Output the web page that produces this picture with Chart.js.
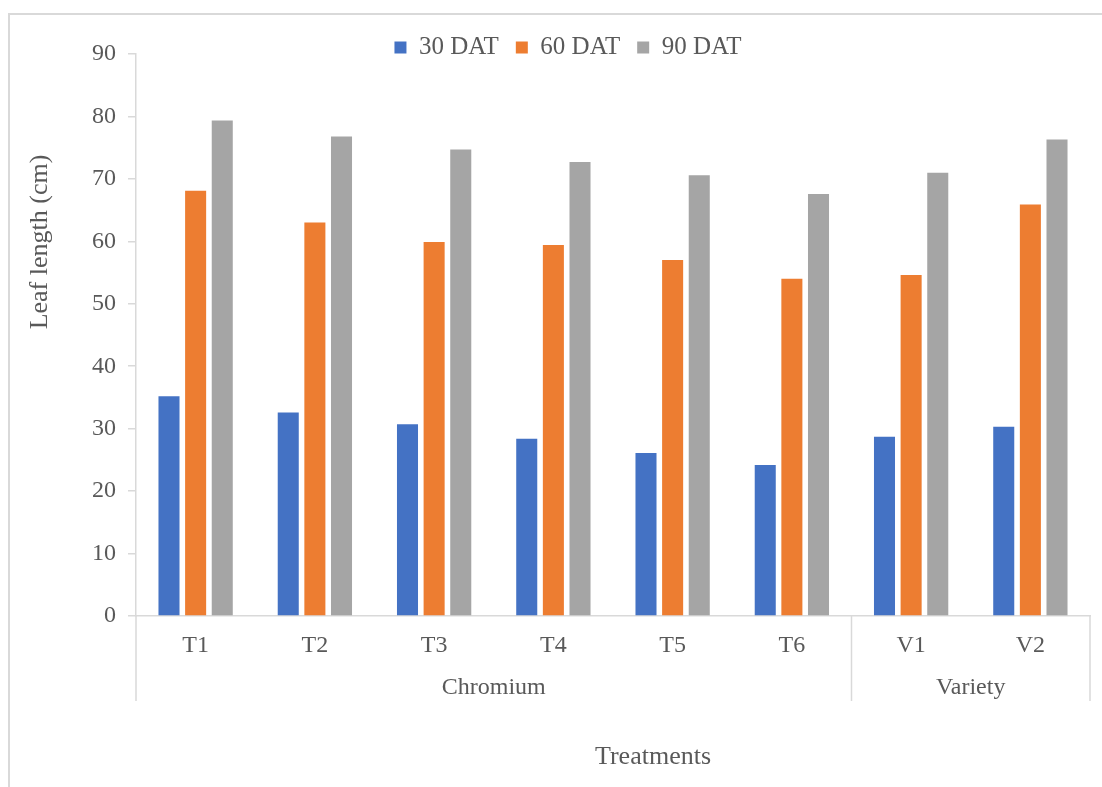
<!DOCTYPE html>
<html>
<head>
<meta charset="utf-8">
<script src="https://cdn.jsdelivr.net/npm/chart.js@4/dist/chart.umd.min.js"></script>
<style>
  html, body { margin: 0; padding: 0; background: #fff; }
  #wrap { position: relative; width: 1102px; height: 787px; }
  #frame {
    position: absolute; left: 8px; top: 13px; width: 1110px; height: 800px;
    border-left: 2px solid #d9d9d9; border-top: 2px solid #d9d9d9;
    box-sizing: border-box;
  }
  canvas { position: absolute; left: 0; top: 0; }
</style>
</head>
<body>
<div id="wrap">
  <div id="frame"></div>
  <canvas id="leafChart" width="1102" height="787"></canvas>
</div>
<script>
const categories = ["T1", "T2", "T3", "T4", "T5", "T6", "V1", "V2"];
const groupLabels = ["Chromium", "Variety"];
const groupSizes = [6, 2];

const dat30 = [35.2, 32.6, 30.7, 28.4, 26.1, 24.2, 28.7, 30.3];
const dat60 = [68.1, 63.0, 59.9, 59.4, 57.0, 54.0, 54.6, 65.9];
const dat90 = [79.35, 76.8, 74.7, 72.7, 70.6, 67.6, 71.0, 76.3];

const yTicks = [0, 10, 20, 30, 40, 50, 60, 70, 80, 90];

const serif = "'Liberation Serif', 'Times New Roman', serif";
const textColor = "#595959";
const lineColor = "#d9d9d9";

// legend sits close to the plot, so trim the space it asks for
const tightLegend = {
  id: "tightLegend",
  beforeLayout(chart) {
    const lg = chart.legend;
    if (lg && !lg._trimmed) {
      const fit = lg.fit;
      lg.fit = function () {
        fit.call(this);
        this.height -= 16;
      };
      lg._trimmed = true;
    }
  },
};

// group labels under the categories, divider lines and axis titles
const groupAxis = {
  id: "groupAxis",
  afterDraw(chart) {
    const { ctx, chartArea } = chart;
    const x = chart.scales.x;
    const step = x.getPixelForValue(1) - x.getPixelForValue(0);
    const bottom = chartArea.bottom;

    ctx.save();
    ctx.strokeStyle = lineColor;
    ctx.lineWidth = 1.5;
    ctx.fillStyle = textColor;
    ctx.textAlign = "center";
    ctx.textBaseline = "middle";
    ctx.font = "24px " + serif;

    let start = 0;
    const edges = [x.getPixelForValue(0) - step / 2];
    groupSizes.forEach((n, i) => {
      const left = x.getPixelForValue(start) - step / 2;
      const right = x.getPixelForValue(start + n - 1) + step / 2;
      edges.push(right);
      ctx.fillText(groupLabels[i], (left + right) / 2, bottom + 72);
      start += n;
    });
    edges.forEach((px) => {
      ctx.beginPath();
      ctx.moveTo(px, bottom);
      ctx.lineTo(px, bottom + 85);
      ctx.stroke();
    });

    ctx.font = "26px " + serif;
    ctx.fillText("Treatments", 653, bottom + 141);

    ctx.translate(40, 242);
    ctx.rotate(-Math.PI / 2);
    ctx.fillText("Leaf length (cm)", 0, 0);
    ctx.restore();
  },
};

new Chart(document.getElementById("leafChart"), {
  type: "bar",
  data: {
    labels: categories,
    datasets: [
      { label: "30 DAT", data: dat30, backgroundColor: "#4472c4" },
      { label: "60 DAT", data: dat60, backgroundColor: "#ed7d31" },
      { label: "90 DAT", data: dat90, backgroundColor: "#a5a5a5" },
    ],
  },
  options: {
    responsive: false,
    animation: false,
    devicePixelRatio: 1,
    categoryPercentage: 0.67,
    barPercentage: 0.79,
    layout: { padding: { top: 18, left: 46, right: 12, bottom: 0 } },
    plugins: {
      tooltip: { enabled: false },
      legend: {
        position: "top",
        labels: {
          boxWidth: 12,
          boxHeight: 12,
          padding: 17,
          color: textColor,
          font: { family: serif, size: 25 },
        },
      },
    },
    scales: {
      x: {
        grid: { drawOnChartArea: false, drawTicks: false },
        border: { color: lineColor, width: 1.5 },
        ticks: {
          color: textColor,
          font: { family: serif, size: 24 },
          padding: 15,
        },
        afterFit(scale) {
          scale.height = 171;
        },
      },
      y: {
        min: 0,
        max: 90,
        afterBuildTicks(scale) {
          scale.ticks = yTicks.map((v) => ({ value: v }));
        },
        grid: {
          drawOnChartArea: false,
          drawTicks: true,
          tickLength: 8,
          color: lineColor,
          lineWidth: 1.5,
        },
        border: { color: lineColor, width: 1.5 },
        ticks: {
          color: textColor,
          font: { family: serif, size: 24 },
          padding: 12,
        },
        afterFit(scale) {
          scale.width = 90;
        },
      },
    },
  },
  plugins: [tightLegend, groupAxis],
});
</script>
</body>
</html>
